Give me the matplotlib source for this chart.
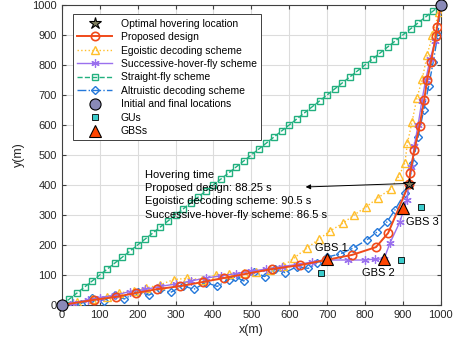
import matplotlib
matplotlib.use("Agg")
import matplotlib.pyplot as plt
from matplotlib.lines import Line2D

plt.rcParams['font.family'] = ['Liberation Sans', 'DejaVu Sans']

# ---- data ----
prop_x = [0, 84, 142, 195, 252, 313, 373, 427, 482, 555, 629, 697, 766, 829, 861, 916, 919, 930, 944, 956, 964, 974, 987, 990, 1000]
prop_y = [0, 17, 27, 40, 53, 63, 77, 90, 103, 120, 133, 150, 167, 193, 240, 403, 440, 515, 598, 683, 750, 810, 897, 927, 1000]

ego_x = [0, 40, 80, 120, 150, 190, 221, 260, 296, 331, 370, 406, 440, 480, 512, 550, 584, 613, 647, 679, 708, 742, 771, 803, 834, 868, 890, 905, 912, 924, 937, 951, 964, 978, 995, 1000]
ego_y = [0, 10, 20, 28, 40, 48, 56, 68, 85, 89, 85, 100, 103, 108, 111, 118, 130, 157, 190, 220, 247, 273, 300, 327, 357, 387, 430, 473, 540, 610, 690, 753, 833, 900, 975, 1000]

shf_x = [0, 30, 70, 100, 140, 180, 220, 260, 300, 340, 380, 420, 460, 500, 540, 580, 620, 660, 700, 755, 800, 826, 850, 866, 892, 910, 916, 922, 930, 940, 950, 960, 972, 985, 1000]
shf_y = [0, 8, 17, 25, 33, 45, 52, 62, 70, 80, 90, 97, 105, 113, 120, 128, 135, 143, 150, 150, 150, 153, 153, 207, 277, 350, 403, 460, 530, 600, 680, 750, 820, 880, 1000]

sf_x = [0, 20, 40, 60, 80, 100, 120, 140, 160, 180, 200, 220, 240, 260, 280, 300, 320, 340, 360, 380, 400,
        420, 440, 460, 480, 500, 520, 540, 560, 580, 600, 620, 640, 660, 680, 700, 720, 740, 760, 780, 800,
        820, 840, 860, 880, 900, 920, 940, 960, 980, 1000]
sf_y = [0, 20, 40, 60, 80, 100, 120, 140, 160, 180, 200, 220, 240, 260, 280, 300, 320, 340, 360, 380, 400,
        420, 440, 460, 480, 500, 520, 540, 560, 580, 600, 620, 640, 660, 680, 700, 720, 740, 760, 780, 800,
        820, 840, 860, 880, 900, 920, 940, 960, 980, 1000]

alt_x = [0, 50, 80, 110, 140, 165, 200, 230, 260, 287, 320, 348, 380, 410, 440, 458, 480, 506, 535, 563, 589, 620, 650, 673, 700, 734, 769, 805, 831, 858, 879, 905, 916, 926, 940, 955, 968, 980, 992, 1000]
alt_y = [0, 5, 22, 15, 35, 20, 45, 33, 55, 42, 65, 52, 75, 62, 85, 94, 80, 111, 95, 119, 108, 128, 122, 141, 160, 170, 190, 217, 243, 277, 317, 373, 405, 473, 560, 650, 730, 810, 900, 1000]

gu_x = [683, 894, 947]
gu_y = [107, 150, 327]
gbs_x = [699, 850, 900]
gbs_y = [153, 153, 323]
gbs_labels = ['GBS 1', 'GBS 2', 'GBS 3']
gbs_label_pos = [(711, 190), (835, 108), (950, 278)]
star_x, star_y = [916], [403]
end_x, end_y = [0, 1000], [0, 1000]

hover_text = ("Hovering time\nProposed design: 88.25 s\n"
              "Egoistic decoding scheme: 90.5 s\nSuccessive-hover-fly scheme: 86.5 s")

c_prop = '#F04A1A'
c_ego = '#FFBE2A'
c_shf = '#9A70EE'
c_sf = '#22B07F'
c_alt = '#2478DA'

fig = plt.figure(figsize=(4.58, 3.49), dpi=100)
ax = fig.add_axes([0.135, 0.126, 0.8275, 0.86])

ax.plot(sf_x, sf_y, '--', color=c_sf, lw=1.0, marker='s', ms=4.5, mfc='none', mew=1.0, zorder=2)
ax.plot(alt_x, alt_y, '-.', color=c_alt, lw=1.0, marker='D', ms=4.2, mfc='none', mew=1.0, zorder=3)
ax.plot(ego_x, ego_y, ':', color=c_ego, lw=1.0, marker='^', ms=6, mfc='none', mew=1.0, zorder=3)
ax.plot(shf_x, shf_y, '-', color=c_shf, lw=1.0, marker=(6, 2, 0), ms=6, mew=0.9, zorder=4)
ax.plot(prop_x, prop_y, '-', color=c_prop, lw=1.4, marker='o', ms=6, mfc='none', mew=1.2, zorder=5)

ax.plot(gu_x, gu_y, 's', color='#3CCCCC', mec='k', mew=0.6, ms=4.5, ls='none', zorder=6)
ax.plot(gbs_x, gbs_y, '^', color='#FF4500', mec='k', mew=0.8, ms=9, ls='none', zorder=7)
ax.plot(star_x, star_y, '*', color='#7F7F5F', mec='k', mew=0.8, ms=9, ls='none', zorder=8)
ax.plot(end_x, end_y, 'o', color='#8A8AB8', mec='k', mew=0.8, ms=8, ls='none', zorder=9, clip_on=False)

for lab, (lx, ly) in zip(gbs_labels, gbs_label_pos):
    ax.text(lx, ly, lab, fontsize=8, ha='center', va='center', zorder=10)

ax.text(220, 367, hover_text, fontsize=8, ha='left', va='center', linespacing=1.4, zorder=10)
ax.annotate('', xy=(636, 393), xytext=(912, 405),
            arrowprops=dict(arrowstyle='-|>', color='k', lw=0.7, mutation_scale=7), zorder=10)

ax.set_xlim(0, 1000)
ax.set_ylim(0, 1000)
ax.set_xticks(range(0, 1001, 100))
ax.set_yticks(range(0, 1001, 100))
ax.grid(True, color='#DCDCDC', lw=0.8)
ax.set_axisbelow(True)
ax.tick_params(direction='in', top=True, right=True, labelsize=8, length=3, color='#404040', labelcolor='#262626', pad=3.5)
for s in ax.spines.values():
    s.set_color('#404040')
    s.set_linewidth(0.8)
ax.set_xlabel('x(m)', fontsize=9, color='#262626', labelpad=3)
ax.set_ylabel('y(m)', fontsize=9, color='#262626', labelpad=5)

handles = [
    Line2D([], [], ls='none', marker='*', color='#7F7F5F', mec='k', mew=0.8, ms=9),
    Line2D([], [], ls='-', color=c_prop, lw=1.4, marker='o', ms=6, mfc='none', mew=1.2),
    Line2D([], [], ls=':', color=c_ego, lw=1.0, marker='^', ms=6, mfc='none', mew=1.0),
    Line2D([], [], ls='-', color=c_shf, lw=1.0, marker=(6, 2, 0), ms=6, mew=0.9),
    Line2D([], [], ls='--', color=c_sf, lw=1.0, marker='s', ms=4.5, mfc='none', mew=1.0),
    Line2D([], [], ls='-.', color=c_alt, lw=1.0, marker='D', ms=4.2, mfc='none', mew=1.0),
    Line2D([], [], ls='none', marker='o', color='#8A8AB8', mec='k', mew=0.8, ms=8),
    Line2D([], [], ls='none', marker='s', color='#3CCCCC', mec='k', mew=0.6, ms=4.5),
    Line2D([], [], ls='none', marker='^', color='#FF4500', mec='k', mew=0.8, ms=9),
]
labels = ['Optimal hovering location', 'Proposed design', 'Egoistic decoding scheme',
          'Successive-hover-fly scheme', 'Straight-fly scheme', 'Altruistic decoding scheme',
          'Initial and final locations', 'GUs', 'GBSs']
leg = ax.legend(handles, labels, loc='upper left', bbox_to_anchor=(0.029, 0.968), fontsize=7.5,
                frameon=True, fancybox=False, edgecolor='#404040', framealpha=1,
                handlelength=3.4, handletextpad=0.8, labelspacing=0.33, borderpad=0.4,
                borderaxespad=0)
leg.get_frame().set_linewidth(0.7)
leg.set_zorder(20)

fig.savefig('out.png', dpi=100)
